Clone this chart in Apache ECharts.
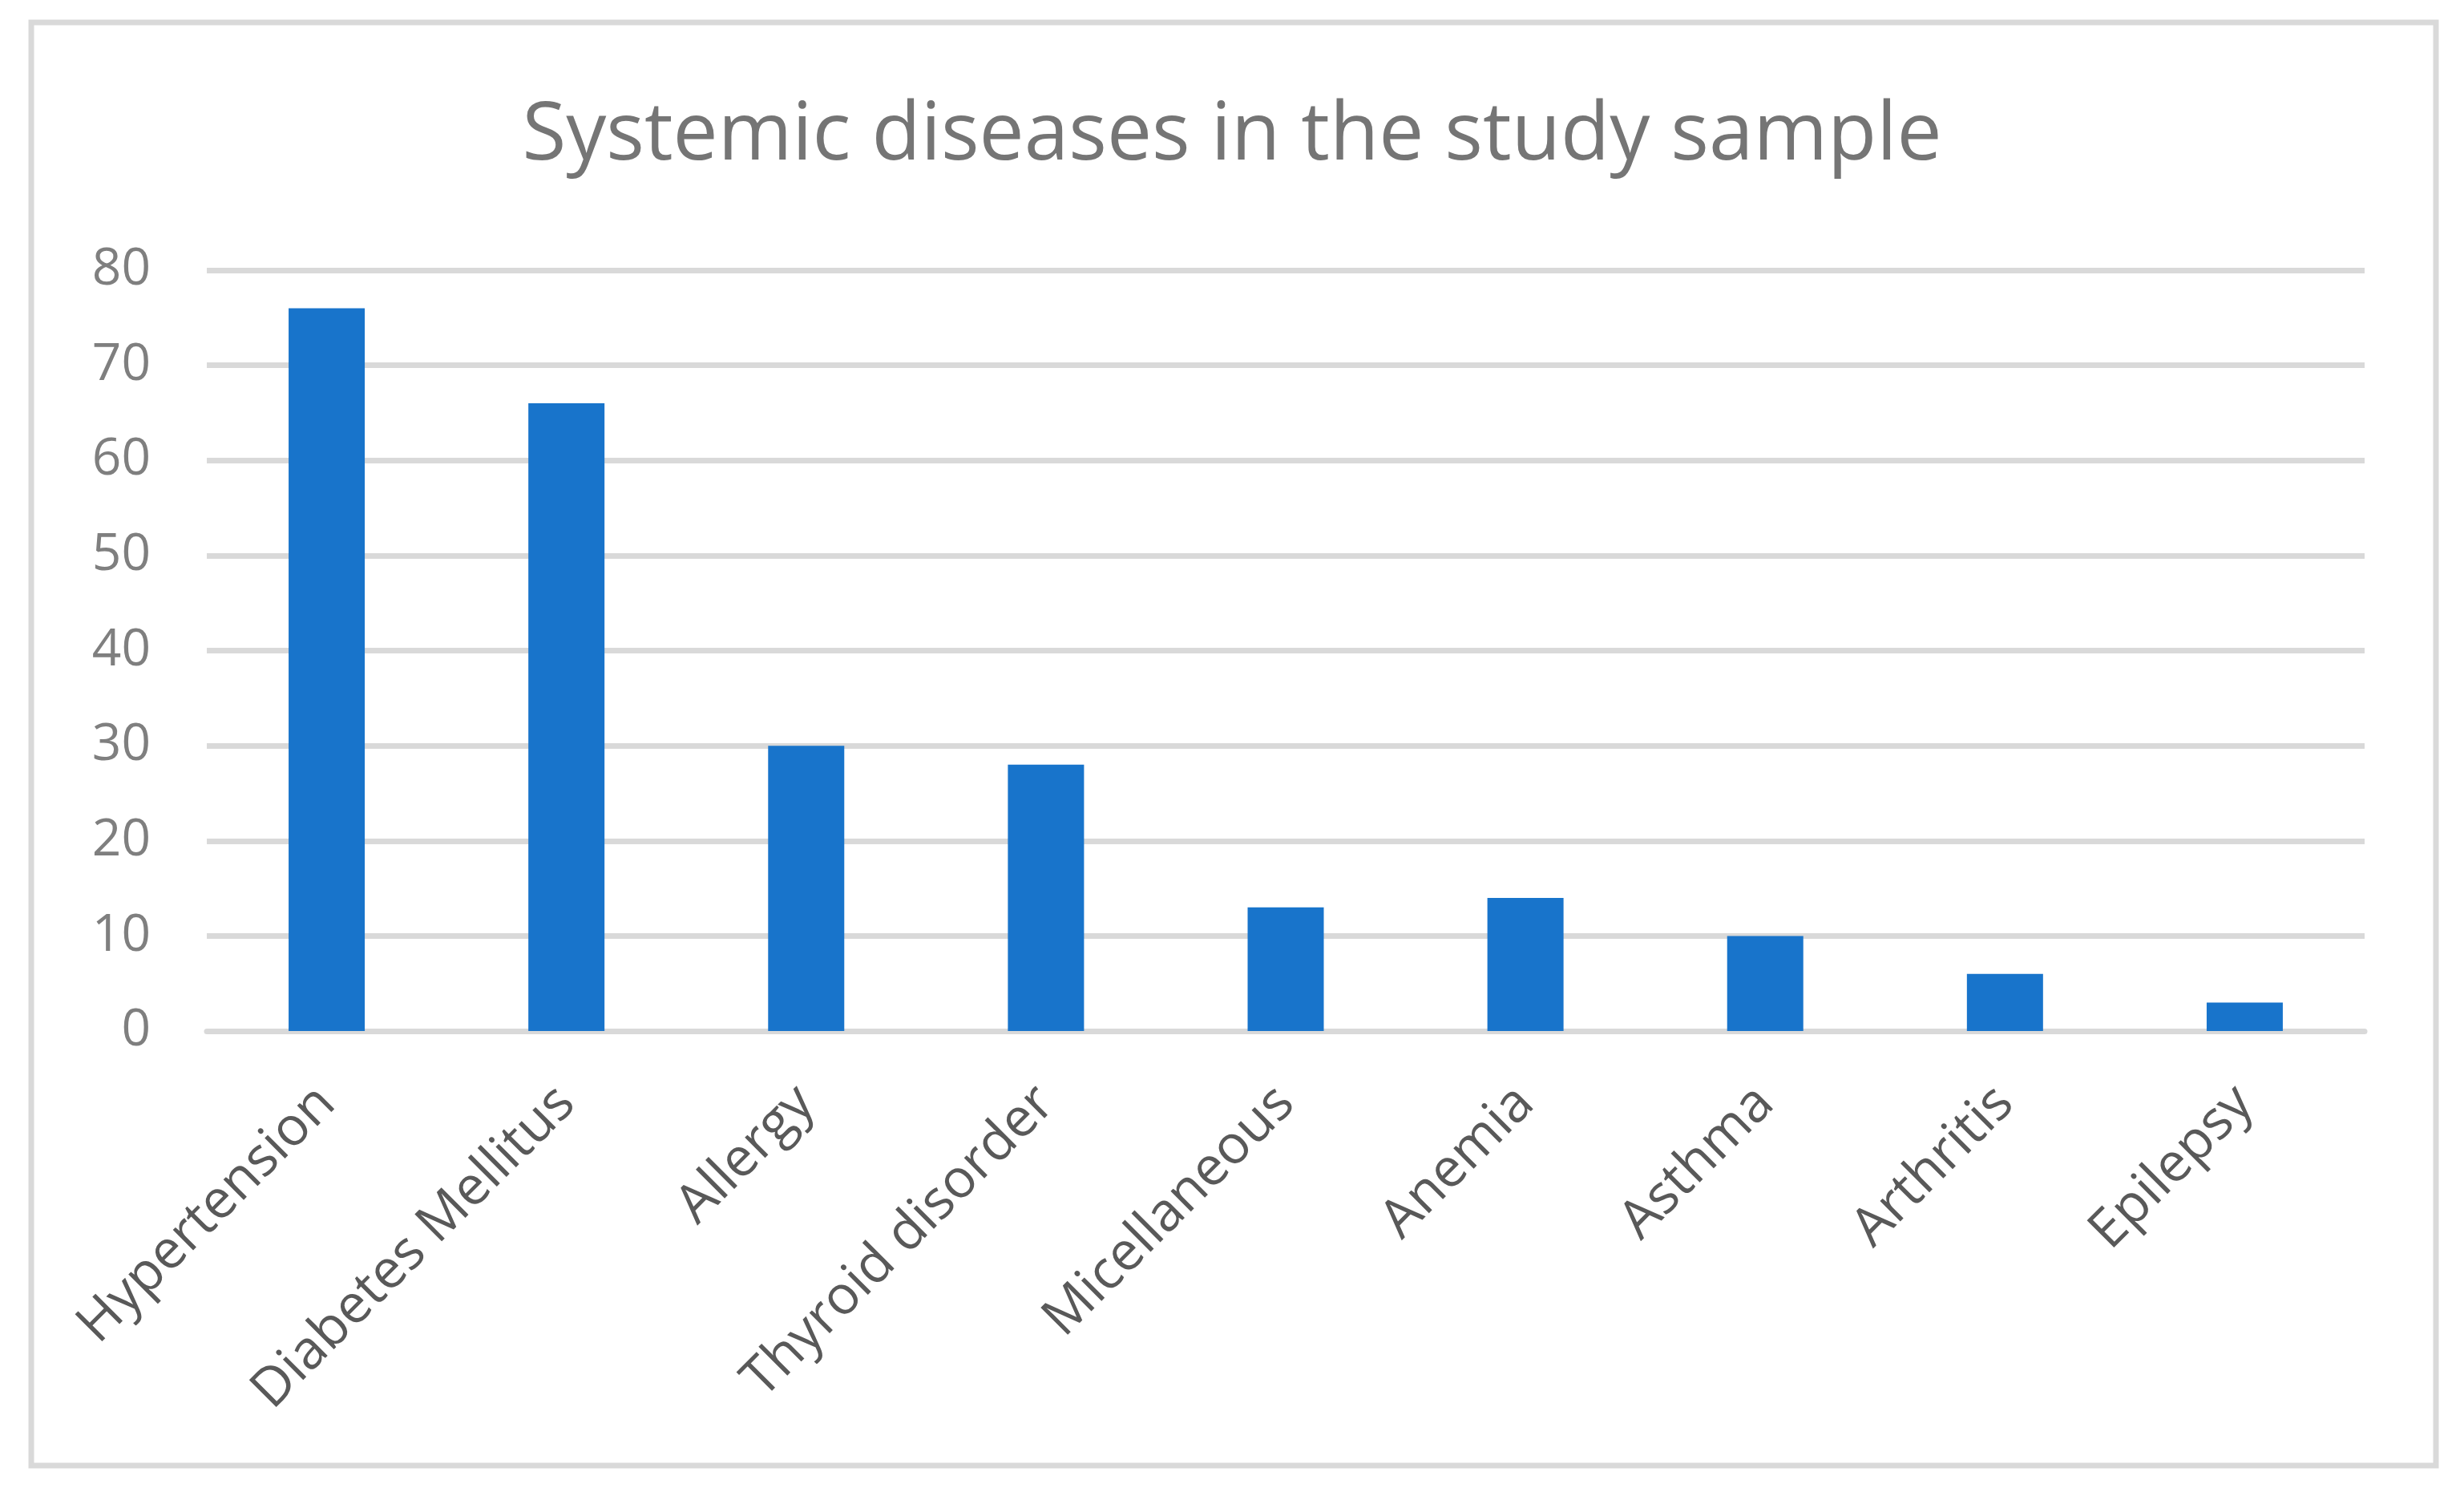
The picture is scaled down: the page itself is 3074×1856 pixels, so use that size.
<!DOCTYPE html>
<html>
<head>
<meta charset="utf-8">
<script src="https://cdn.jsdelivr.net/npm/echarts@6/dist/echarts.min.js"></script>
<style>html,body{margin:0;padding:0;background:#fff}#c{width:3074px;height:1856px}</style>
</head>
<body>
<div id="c"></div>
<script>
const categories = ["Hypertension","Diabetes Mellitus","Allergy","Thyroid disorder","Micellaneous","Anemia","Asthma","Arthritis","Epilepsy"];
const values = [76, 66, 30, 28, 13, 14, 10, 6, 3];
const yTicks = {min: 0, max: 80, interval: 10};
const titleText = "Systemic diseases in the study sample";

const chart = echarts.init(document.getElementById('c'));
chart.setOption({
  animation: false,
  backgroundColor: '#fff',
  title: {
    text: titleText,
    left: 'center',
    top: 116,
    textStyle: {fontFamily: 'Open Sans', fontWeight: 'normal', fontSize: 100, color: '#757575'}
  },
  graphic: [{
    type: 'rect',
    shape: {x: 39, y: 28, width: 3000, height: 1800},
    style: {fill: 'none', stroke: '#d9d9d9', lineWidth: 7},
    silent: true, z: -1
  }],
  grid: {left: 258, right: 124, top: 337, bottom: 570, containLabel: false},
  xAxis: {
    type: 'category',
    data: categories,
    axisLine: {lineStyle: {color: '#d9d9d9', width: 7}},
    axisTick: {show: false},
    axisLabel: {rotate: 45, margin: 80, fontFamily: 'Open Sans', fontSize: 67, color: '#595959', interval: 0}
  },
  yAxis: {
    type: 'value',
    min: yTicks.min, max: yTicks.max, interval: yTicks.interval,
    axisLine: {show: false},
    axisTick: {show: false},
    splitLine: {lineStyle: {color: '#d9d9d9', width: 7}},
    axisLabel: {margin: 70, fontFamily: 'Open Sans', fontSize: 64, color: '#7f7f7f'}
  },
  series: [{
    type: 'bar',
    data: values,
    barWidth: 95,
    itemStyle: {color: '#1874CB'}
  }]
});
</script>
</body>
</html>
